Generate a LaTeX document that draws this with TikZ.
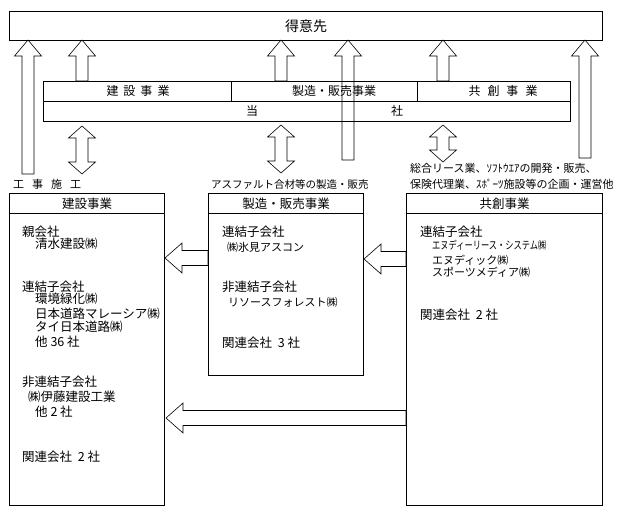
\documentclass[tikz,border=0pt]{standalone}
\usepackage{fontspec}
\setmainfont{Noto Sans CJK JP}
\usetikzlibrary{calc}
\newcommand\fsz[1]{\fontsize{#1}{#1}\selectfont}
\newcommand\uparrowblk[2]{\draw[blk] let \p1=(#1), \p2=(#2) in
  (\x1-6pt,\y1) -- (\x1-6pt,\y2-16pt) -- (\x1-13.5pt,\y2-16pt) -- (\x1,\y2) --
  (\x1+13.5pt,\y2-16pt) -- (\x1+6pt,\y2-16pt) -- (\x1+6pt,\y1) -- cycle;}
\newcommand\dblarrowblk[2]{\draw[blk] let \p1=(#1), \p2=(#2) in
  (\x1,\y1) -- (\x1+13.5pt,\y1-12pt) -- (\x1+6pt,\y1-12pt) -- (\x1+6pt,\y2+12pt) --
  (\x1+13.5pt,\y2+12pt) -- (\x1,\y2) -- (\x1-13.5pt,\y2+12pt) -- (\x1-6pt,\y2+12pt) --
  (\x1-6pt,\y1-12pt) -- (\x1-13.5pt,\y1-12pt) -- cycle;}
\newcommand\leftarrowblk[2]{\draw[blk] let \p1=(#1), \p2=(#2) in
  (\x1,\y1+7.5pt) -- (\x2+17pt,\y1+7.5pt) -- (\x2+17pt,\y1+15pt) -- (\x2,\y1) --
  (\x2+17pt,\y1-15pt) -- (\x2+17pt,\y1-7.5pt) -- (\x1,\y1-7.5pt) -- cycle;}
\begin{document}
\begin{tikzpicture}[x=1pt,y=-1pt,
  box/.style={draw, line width=1.1pt, inner sep=0, anchor=north west},
  blk/.style={draw, line width=0.6pt},
  txt/.style={inner sep=0, anchor=west, font=\fsz{12.5}},
  ctxt/.style={inner sep=0, font=\fsz{12.5}},
  small/.style={inner sep=0, anchor=west, font=\fsz{11}}]
\useasboundingbox (0,0) rectangle (624,514);
% customers
\node[box, minimum width=593pt, minimum height=29pt, font=\fsz{14}] (cust) at (9,11) {得意先};
% company block
\node[box, minimum width=188pt, minimum height=20pt] (seg1) at (43,81) {};
\node[box, minimum width=186pt, minimum height=20pt] (seg2) at (231,81) {};
\node[box, minimum width=153pt, minimum height=20pt] (seg3) at (417,81) {};
\node[box, minimum width=527pt, minimum height=20pt] (tosha) at (43,101) {};
\node[ctxt, font=\fsz{12}] (l1) at (138,91) {建\kern5pt 設\kern5pt 事\kern5pt 業};
\node[ctxt, font=\fsz{12}] (l2) at (334,91) {製造・販売事業};
\node[ctxt, font=\fsz{12}] (l3) at (503,91) {共\kern7pt 創\kern7pt 事\kern7pt 業};
\node[ctxt, font=\fsz{12}] (l4) at (252,111) {当};
\node[ctxt, font=\fsz{12}] (l5) at (397,111) {社};
% bottom boxes
\node[box, minimum width=155pt, minimum height=20pt] (hA) at (9,193) {};
\node[box, minimum width=155pt, minimum height=292pt] (bA) at (9,213) {};
\node[box, minimum width=155pt, minimum height=20pt] (hB) at (208,193) {};
\node[box, minimum width=155pt, minimum height=162pt] (bB) at (208,213) {};
\node[box, minimum width=196pt, minimum height=20pt] (hC) at (406,193) {};
\node[box, minimum width=196pt, minimum height=292pt] (bC) at (406,213) {};
\node[ctxt] (hAt) at (hA.center) {建設事業};
\node[ctxt] (hBt) at (hB.center) {製造・販売事業};
\node[ctxt] (hCt) at (hC.center) {共創事業};
% upward arrows
\coordinate (a1t) at (82,81);  \coordinate (a1h) at (82,40);
\coordinate (a2t) at (281,81); \coordinate (a2h) at (281,40);
\coordinate (a3t) at (443,81); \coordinate (a3h) at (443,40);
\coordinate (a4t) at (28,174); \coordinate (a4h) at (28,40);
\coordinate (a5t) at (348,160); \coordinate (a5h) at (348,40);
\coordinate (a6t) at (585,158); \coordinate (a6h) at (585,40);
\uparrowblk{a1t}{a1h}
\uparrowblk{a2t}{a2h}
\uparrowblk{a3t}{a3h}
\uparrowblk{a4t}{a4h}
\uparrowblk{a5t}{a5h}
\uparrowblk{a6t}{a6h}
% double arrows
\coordinate (d1t) at (82,126);  \coordinate (d1b) at (82,174);
\coordinate (d2t) at (281,125); \coordinate (d2b) at (281,173);
\coordinate (d3t) at (443,125); \coordinate (d3b) at (443,162);
\dblarrowblk{d1t}{d1b}
\dblarrowblk{d2t}{d2b}
\dblarrowblk{d3t}{d3b}
% left arrows
\coordinate (h1t) at (208,258); \coordinate (h1h) at (165,258);
\coordinate (h2t) at (406,259); \coordinate (h2h) at (364,259);
\coordinate (h3t) at (406,418); \coordinate (h3h) at (166,418);
\leftarrowblk{h1t}{h1h}
\leftarrowblk{h2t}{h2h}
\leftarrowblk{h3t}{h3h}
% captions
\node[small] (c1) at (13,184) {工\kern8pt 事\kern8pt 施\kern8pt 工};
\node[inner sep=0, anchor=west, font=\fsz{10.5}] (c2) at (211,184) {アスファルト合材等の製造・販売};
\node[small] (c3) at (410,168) {総合リース業、ｿﾌﾄｳｴｱの開発・販売、};
\node[small] (c4) at (410,184) {保険代理業、ｽﾎﾟｰﾂ施設等の企画・運営他};
% left box text
\node[txt] (A1) at (22,232) {親会社};
\node[txt] (A2) at (35,244) {清水建設㈱};
\node[txt] (A3) at (22,287) {連結子会社};
\node[txt] (A4) at (35,299) {環境緑化㈱};
\node[txt] (A5) at (35,314) {日本道路マレーシア㈱};
\node[txt] (A6) at (35,327) {タイ日本道路㈱};
\node[txt] (A7) at (35,342) {他 36 社};
\node[txt] (A8) at (22,382) {非連結子会社};
\node[txt] (A9) at (28,397) {㈱伊藤建設工業};
\node[txt] (A10) at (35,412) {他 2 社};
\node[txt] (A11) at (22,457) {関連会社\ \ 2 社};
% middle box text
\node[txt] (B1) at (222,232) {連結子会社};
\node[small] (B2) at (227,247) {㈱氷見アスコン};
\node[txt] (B3) at (222,287) {非連結子会社};
\node[small] (B4) at (228,302) {リソースフォレスト㈱};
\node[txt] (B5) at (222,343) {関連会社\ \ 3 社};
% right box text
\node[txt] (C1) at (420,232) {連結子会社};
\node[small] (C2) at (432,245) {\scalebox{0.75}[1]{エヌディーリース・システム㈱}};
\node[small] (C3) at (432,260) {エヌディック㈱};
\node[small] (C4) at (432,272) {スポーツメディア㈱};
\node[txt] (C5) at (420,315) {関連会社\ \ 2 社};
\end{tikzpicture}
\end{document}
